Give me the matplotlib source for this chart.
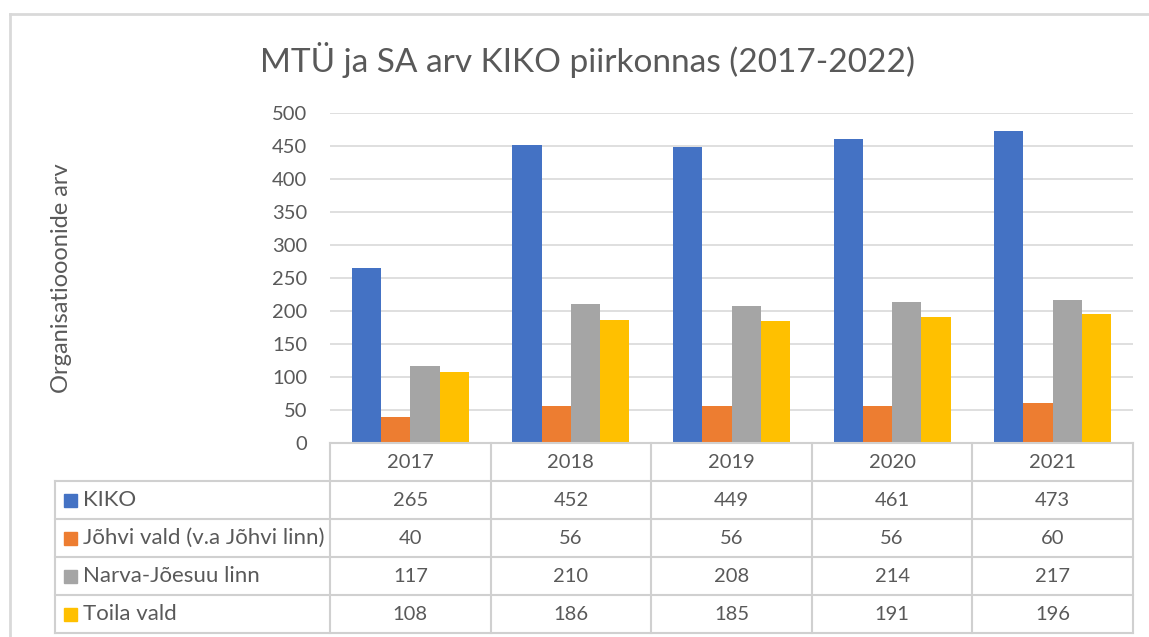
import numpy as np
import matplotlib
matplotlib.use("Agg")
import matplotlib.pyplot as plt
from matplotlib import transforms
from matplotlib.lines import Line2D
from matplotlib.patches import Rectangle

years = ["2017", "2018", "2019", "2020", "2021"]
series_names = ["KIKO", "Jõhvi vald (v.a Jõhvi linn)", "Narva-Jõesuu linn", "Toila vald"]
kiko = [265, 452, 449, 461, 473]
johvi = [40, 56, 56, 56, 60]
narva = [117, 210, 208, 214, 217]
toila = [108, 186, 185, 191, 196]
colors = ["#4472C4", "#ED7D31", "#A5A5A5", "#FFC000"]

W, H = 1149, 637
TXT = "#595959"
GRID = "#D9D9D9"
plt.rcParams["font.family"] = ["Lato", "DejaVu Sans"]

fig = plt.figure(figsize=(W / 100, H / 100), dpi=100)

def fx(px):
    return px / W

def fy(py):
    return 1 - py / H

# plot area in pixels
left, right, top, bottom = 330, 1133, 113, 443
ax = fig.add_axes([fx(left), fy(bottom), fx(right - left), (bottom - top) / H])

data = [kiko, johvi, narva, toila]
x = np.arange(len(years))
bw = 0.182
for i, (vals, c) in enumerate(zip(data, colors)):
    ax.bar(x + (i - 1.5) * bw, vals, width=bw, color=c, zorder=3)

ax.set_xlim(-0.5, len(years) - 0.5)
ax.set_ylim(0, 500)
ax.set_yticks(range(0, 501, 50))
ax.tick_params(axis="y", length=0, pad=16.5, labelsize=14.5, labelcolor=TXT)
ax.set_xticks([])
ax.grid(axis="y", color=GRID, lw=1.2, zorder=0)
for s in ax.spines.values():
    s.set_visible(False)

# outer chart border
fig.add_artist(Line2D([fx(10), 1], [fy(14), fy(14)], color=GRID, lw=2))
fig.add_artist(Line2D([fx(10), fx(10)], [fy(14), 0], color=GRID, lw=2))

fig.text(0.511, fy(60), "MTÜ ja SA arv KIKO piirkonnas (2017-2022)",
         ha="center", va="center", fontsize=24, color=TXT)
fig.text(fx(62), fy(278), "Organisatiooonide arv", rotation=90,
         ha="center", va="center", fontsize=17, color=TXT)

# data table below the axis
blend = transforms.blended_transform_factory(ax.transData, fig.transFigure)
row_edges = [443, 481, 519, 557, 595, 633]
tcol = "#D0D0D0"
lw = 1.5

# horizontal lines
fig.add_artist(Line2D([fx(left), fx(right)], [fy(443), fy(443)], color=tcol, lw=lw))
for yy in row_edges[1:]:
    fig.add_artist(Line2D([fx(55), fx(right)], [fy(yy), fy(yy)], color=tcol, lw=lw))
# vertical lines
for k in range(len(years) + 1):
    fig.add_artist(Line2D([k - 0.5, k - 0.5], [fy(443), fy(633)], color=tcol, lw=lw,
                          transform=blend))
fig.add_artist(Line2D([fx(55), fx(55)], [fy(481), fy(633)], color=tcol, lw=lw))

for k, yr in enumerate(years):
    fig.text(k, fy(462), yr, transform=blend, ha="center", va="center",
             fontsize=14.5, color=TXT)

for r, (name, vals, c) in enumerate(zip(series_names, data, colors)):
    yc = (row_edges[r + 1] + row_edges[r + 2]) / 2
    fig.add_artist(Rectangle((fx(64), fy(yc + 7)), fx(13), 13 / H, color=c))
    fig.text(fx(83), fy(yc), name, ha="left", va="center", fontsize=16, color=TXT)
    for k, v in enumerate(vals):
        fig.text(k, fy(yc), str(v), transform=blend, ha="center", va="center",
                 fontsize=14.5, color=TXT)

fig.savefig("out.png", dpi=100)
